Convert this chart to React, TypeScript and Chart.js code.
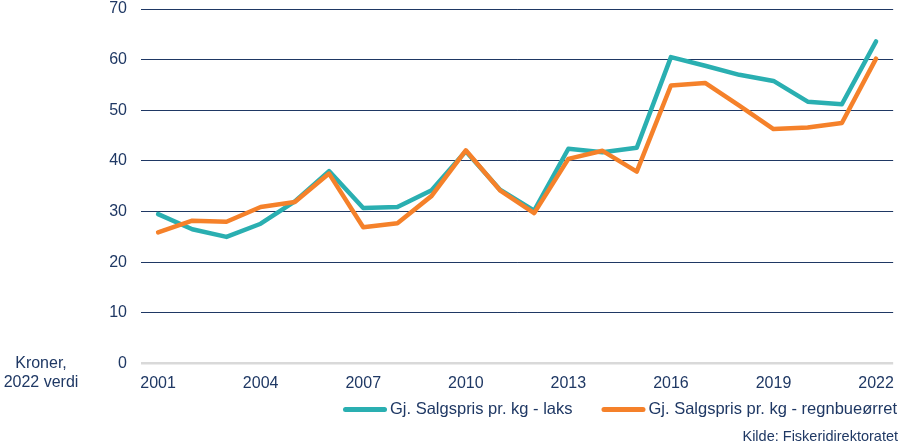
import { useEffect, useRef } from "react";
import { Chart, registerables } from "chart.js";

Chart.register(...registerables);

const years = [
  "2001", "2002", "2003", "2004", "2005", "2006", "2007", "2008", "2009", "2010", "2011",
  "2012", "2013", "2014", "2015", "2016", "2017", "2018", "2019", "2020", "2021", "2022",
];
const laks = [
  29.5, 26.5, 25.0, 27.6, 32.0, 38.0, 30.7, 30.9, 34.2, 41.9, 34.3,
  30.2, 42.4, 41.7, 42.6, 60.5, 58.8, 57.0, 55.8, 51.7, 51.2, 63.6,
];
const regnbue = [
  25.9, 28.2, 28.0, 30.9, 31.9, 37.5, 26.9, 27.7, 33.1, 42.1, 34.2,
  29.7, 40.4, 42.0, 37.9, 54.9, 55.4, 50.9, 46.3, 46.6, 47.5, 60.2,
];
const seriesNames = ["Gj. Salgspris pr. kg - laks", "Gj. Salgspris pr. kg - regnbueørret"];
const yMin = 0;
const yMax = 70;
const yStep = 10;
const unitLabel = ["Kroner,", "2022 verdi"];
const sourceText = "Kilde: Fiskeridirektoratet";

const FONT = "'Liberation Sans', Arial, sans-serif";
const NAVY = "#1f3864";
const TEAL = "#2aafb1";
const ORANGE = "#f5812a";

// unit label at left + line legend under the plot
const sideText = {
  id: "sideText",
  afterDraw(chart: any) {
    const { ctx, chartArea } = chart;
    ctx.save();
    ctx.fillStyle = NAVY;
    ctx.font = `16px ${FONT}`;
    ctx.textAlign = "center";
    ctx.textBaseline = "middle";
    ctx.fillText(unitLabel[0], 41, chartArea.bottom);
    ctx.fillText(unitLabel[1], 41, chartArea.bottom + 19);

    ctx.font = `16.5px ${FONT}`;
    ctx.textAlign = "left";
    const y = 409.5;
    let x = chart.width - 7;
    const sets = chart.data.datasets;
    for (let i = sets.length - 1; i >= 0; i--) {
      const ds = sets[i];
      const w = ctx.measureText(ds.label).width;
      x -= w;
      ctx.fillStyle = NAVY;
      ctx.fillText(ds.label, x, y);
      ctx.beginPath();
      ctx.lineWidth = 5;
      ctx.lineCap = "round";
      ctx.strokeStyle = ds.borderColor;
      ctx.moveTo(x - 3 - 44 + 2.5, y);
      ctx.lineTo(x - 3 - 2.5, y);
      ctx.stroke();
      x -= 3 + 44 + 29;
    }
    ctx.restore();
  },
};

const App = () => {
  const canvasRef = useRef<HTMLCanvasElement>(null);

  useEffect(() => {
    document.body.style.margin = "0";
    if (!canvasRef.current) return;

    const chart = new Chart(canvasRef.current, {
      type: "line",
      data: {
        labels: years,
        datasets: [
          {
            label: seriesNames[0],
            data: laks,
            borderColor: TEAL,
            backgroundColor: TEAL,
            borderWidth: 4.5,
            pointRadius: 0,
            borderJoinStyle: "round",
            borderCapStyle: "round",
            order: 1,
          },
          {
            label: seriesNames[1],
            data: regnbue,
            borderColor: ORANGE,
            backgroundColor: ORANGE,
            borderWidth: 4.5,
            pointRadius: 0,
            borderJoinStyle: "round",
            borderCapStyle: "round",
            order: 0,
          },
        ],
      },
      options: {
        animation: false,
        responsive: true,
        maintainAspectRatio: false,
        layout: { padding: { top: 0, left: 0, right: 6, bottom: 0 } },
        plugins: {
          legend: { display: false },
          tooltip: { enabled: false },
          subtitle: {
            display: true,
            text: sourceText,
            position: "bottom",
            align: "end",
            color: NAVY,
            font: { family: FONT, size: 14.5, weight: "normal" },
            padding: 0,
          },
        },
        scales: {
          x: {
            offset: true,
            grid: { display: false, drawTicks: false },
            border: { display: false },
            ticks: {
              autoSkip: false,
              maxRotation: 0,
              padding: 10,
              color: NAVY,
              font: { family: FONT, size: 16 },
              callback: (_v: any, i: number) => (i % 3 === 0 ? years[i] : ""),
            },
            afterFit: (scale: any) => {
              scale.height = 65.1;
            },
          },
          y: {
            min: yMin,
            max: yMax,
            border: { display: false },
            grid: {
              drawTicks: false,
              color: (c: any) => (c.tick && c.tick.value === 0 ? "#d9d9d9" : NAVY),
              lineWidth: (c: any) => (c.tick && c.tick.value === 0 ? 2.5 : 1),
            },
            ticks: {
              stepSize: yStep,
              padding: 14,
              color: NAVY,
              font: { family: FONT, size: 16 },
            },
            afterFit: (scale: any) => {
              scale.width = 141;
              scale.paddingTop = 9;
              scale.paddingBottom = 9;
            },
          },
        },
      },
      plugins: [sideText],
    });

    return () => chart.destroy();
  }, []);

  return (
    <div style={{ position: "relative", width: 904, height: 446 }}>
      <canvas ref={canvasRef}></canvas>
    </div>
  );
};

export default App;
